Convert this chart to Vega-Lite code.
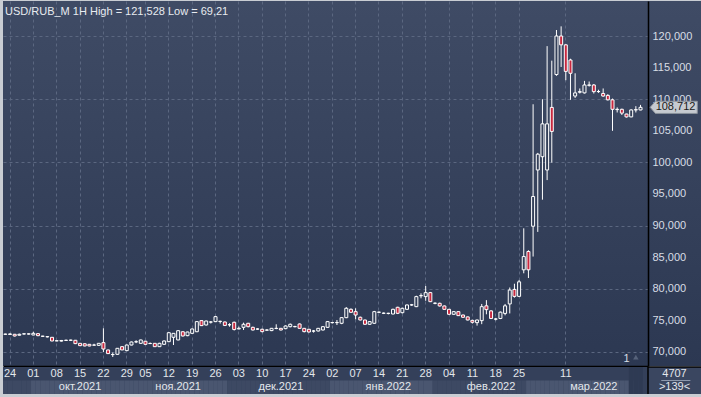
{
  "$schema": "https://vega.github.io/schema/vega-lite/v6.json",
  "background": "#c9cdd3",
  "padding": {"left": 3, "top": 1, "right": 0, "bottom": 4},
  "spacing": 0,
  "config": {
    "locale": {"number": {"decimal": ",", "thousands": " ", "grouping": [3], "currency": ["", ""]}},
    "view": {"stroke": null},
    "font": "Liberation Sans"
  },
  "datasets": {
    "bars": [
      {"d":"2021-09-23","o":72.8,"h":72.9,"l":72.7,"c":72.82},
      {"d":"2021-09-24","o":72.78,"h":72.95,"l":72.7,"c":72.85},
      {"d":"2021-09-27","o":72.8,"h":72.85,"l":72.45,"c":72.53},
      {"d":"2021-09-28","o":72.65,"h":72.9,"l":72.6,"c":72.8},
      {"d":"2021-09-29","o":72.85,"h":72.95,"l":72.75,"c":72.87},
      {"d":"2021-09-30","o":72.86,"h":72.95,"l":72.75,"c":72.84},
      {"d":"2021-10-01","o":72.69,"h":73.2,"l":72.65,"c":72.95},
      {"d":"2021-10-04","o":72.9,"h":72.95,"l":72.5,"c":72.58},
      {"d":"2021-10-05","o":72.5,"h":72.55,"l":72.4,"c":72.48},
      {"d":"2021-10-06","o":72.42,"h":72.5,"l":72.3,"c":72.4},
      {"d":"2021-10-07","o":72.32,"h":72.35,"l":71.7,"c":71.74},
      {"d":"2021-10-08","o":71.75,"h":71.85,"l":71.7,"c":71.78},
      {"d":"2021-10-11","o":71.72,"h":71.9,"l":71.65,"c":71.82},
      {"d":"2021-10-12","o":71.85,"h":71.95,"l":71.78,"c":71.83},
      {"d":"2021-10-13","o":71.87,"h":71.95,"l":71.78,"c":71.85},
      {"d":"2021-10-14","o":71.85,"h":71.9,"l":71.25,"c":71.32},
      {"d":"2021-10-15","o":71.37,"h":71.4,"l":70.95,"c":71.0},
      {"d":"2021-10-18","o":71.3,"h":71.35,"l":70.9,"c":70.95},
      {"d":"2021-10-19","o":71.21,"h":71.25,"l":70.9,"c":70.95},
      {"d":"2021-10-20","o":71.1,"h":71.3,"l":71.0,"c":71.08},
      {"d":"2021-10-21","o":71.05,"h":71.4,"l":71.0,"c":71.37},
      {"d":"2021-10-22","o":71.48,"h":73.75,"l":70.0,"c":70.47},
      {"d":"2021-10-25","o":70.32,"h":70.35,"l":69.7,"c":69.74},
      {"d":"2021-10-26","o":69.6,"h":69.9,"l":69.21,"c":69.58},
      {"d":"2021-10-27","o":69.63,"h":70.6,"l":69.55,"c":70.58},
      {"d":"2021-10-28","o":70.84,"h":70.9,"l":70.3,"c":70.32},
      {"d":"2021-10-29","o":70.21,"h":71.15,"l":70.15,"c":71.1},
      {"d":"2021-11-01","o":71.1,"h":71.65,"l":71.05,"c":71.58},
      {"d":"2021-11-02","o":71.6,"h":71.85,"l":71.4,"c":71.62},
      {"d":"2021-11-03","o":71.37,"h":71.95,"l":71.3,"c":71.9},
      {"d":"2021-11-05","o":71.7,"h":71.75,"l":71.15,"c":71.21},
      {"d":"2021-11-08","o":71.35,"h":71.5,"l":71.25,"c":71.33},
      {"d":"2021-11-09","o":71.37,"h":71.4,"l":70.8,"c":70.84},
      {"d":"2021-11-10","o":70.84,"h":71.45,"l":70.8,"c":71.37},
      {"d":"2021-11-11","o":71.21,"h":71.8,"l":71.15,"c":71.74},
      {"d":"2021-11-12","o":71.63,"h":73.1,"l":71.55,"c":73.05},
      {"d":"2021-11-15","o":72.32,"h":73.0,"l":71.1,"c":72.95},
      {"d":"2021-11-16","o":71.9,"h":73.45,"l":71.85,"c":73.37},
      {"d":"2021-11-17","o":73.2,"h":73.25,"l":72.45,"c":72.53},
      {"d":"2021-11-18","o":72.58,"h":73.2,"l":72.5,"c":73.16},
      {"d":"2021-11-19","o":72.95,"h":73.7,"l":72.9,"c":73.64},
      {"d":"2021-11-22","o":73.2,"h":74.85,"l":73.15,"c":74.8},
      {"d":"2021-11-23","o":74.96,"h":75.0,"l":74.1,"c":74.17},
      {"d":"2021-11-24","o":74.27,"h":74.95,"l":74.2,"c":74.9},
      {"d":"2021-11-25","o":74.75,"h":74.9,"l":74.5,"c":74.73},
      {"d":"2021-11-26","o":74.8,"h":75.7,"l":74.75,"c":75.59},
      {"d":"2021-11-29","o":74.85,"h":74.95,"l":74.5,"c":74.83},
      {"d":"2021-11-30","o":74.75,"h":74.8,"l":74.1,"c":74.2},
      {"d":"2021-12-01","o":74.3,"h":74.55,"l":74.0,"c":74.32},
      {"d":"2021-12-02","o":74.7,"h":74.8,"l":73.4,"c":73.55},
      {"d":"2021-12-03","o":73.64,"h":74.0,"l":73.6,"c":73.74},
      {"d":"2021-12-06","o":73.9,"h":74.64,"l":73.48,"c":74.38},
      {"d":"2021-12-07","o":74.54,"h":74.6,"l":73.9,"c":74.0},
      {"d":"2021-12-08","o":73.9,"h":74.0,"l":73.4,"c":73.48},
      {"d":"2021-12-09","o":73.62,"h":73.75,"l":73.5,"c":73.64},
      {"d":"2021-12-10","o":73.59,"h":73.7,"l":73.1,"c":73.22},
      {"d":"2021-12-13","o":73.45,"h":73.6,"l":73.35,"c":73.48},
      {"d":"2021-12-14","o":73.38,"h":73.8,"l":73.3,"c":73.74},
      {"d":"2021-12-15","o":73.72,"h":74.38,"l":73.6,"c":73.74},
      {"d":"2021-12-16","o":73.74,"h":73.8,"l":73.4,"c":73.48},
      {"d":"2021-12-17","o":73.69,"h":74.2,"l":73.6,"c":74.11},
      {"d":"2021-12-20","o":74.0,"h":74.5,"l":73.9,"c":74.38},
      {"d":"2021-12-21","o":74.0,"h":74.15,"l":73.9,"c":74.02},
      {"d":"2021-12-22","o":74.43,"h":74.5,"l":73.7,"c":73.74},
      {"d":"2021-12-23","o":73.74,"h":73.8,"l":73.1,"c":73.22},
      {"d":"2021-12-24","o":73.59,"h":73.65,"l":73.1,"c":73.16},
      {"d":"2021-12-27","o":73.3,"h":73.48,"l":73.06,"c":73.32},
      {"d":"2021-12-28","o":73.32,"h":73.8,"l":73.25,"c":73.74},
      {"d":"2021-12-29","o":73.48,"h":74.1,"l":73.4,"c":74.0},
      {"d":"2021-12-30","o":73.9,"h":74.9,"l":73.8,"c":74.8},
      {"d":"2022-01-02","o":74.64,"h":74.75,"l":74.5,"c":74.66},
      {"d":"2022-01-03","o":74.64,"h":75.06,"l":74.27,"c":74.66},
      {"d":"2022-01-04","o":74.54,"h":75.5,"l":74.4,"c":75.43},
      {"d":"2022-01-05","o":75.43,"h":77.1,"l":75.35,"c":76.91},
      {"d":"2022-01-06","o":76.75,"h":76.9,"l":76.2,"c":76.28},
      {"d":"2022-01-07","o":76.38,"h":76.91,"l":75.17,"c":75.85},
      {"d":"2022-01-10","o":75.49,"h":75.6,"l":75.0,"c":75.06},
      {"d":"2022-01-11","o":75.06,"h":75.1,"l":74.3,"c":74.38},
      {"d":"2022-01-12","o":74.38,"h":74.9,"l":74.3,"c":74.8},
      {"d":"2022-01-13","o":74.54,"h":76.5,"l":74.45,"c":76.38},
      {"d":"2022-01-14","o":76.28,"h":76.4,"l":76.15,"c":76.3},
      {"d":"2022-01-17","o":76.12,"h":76.25,"l":76.0,"c":76.14},
      {"d":"2022-01-18","o":76.12,"h":76.2,"l":75.95,"c":76.1},
      {"d":"2022-01-19","o":76.01,"h":76.85,"l":75.95,"c":76.75},
      {"d":"2022-01-20","o":77.07,"h":77.15,"l":76.0,"c":76.12},
      {"d":"2022-01-21","o":76.22,"h":77.0,"l":76.1,"c":76.91},
      {"d":"2022-01-24","o":76.75,"h":77.5,"l":76.7,"c":77.44},
      {"d":"2022-01-25","o":77.44,"h":77.6,"l":77.3,"c":77.46},
      {"d":"2022-01-26","o":77.17,"h":78.9,"l":77.1,"c":78.76},
      {"d":"2022-01-27","o":78.9,"h":79.28,"l":78.49,"c":78.92},
      {"d":"2022-01-28","o":78.76,"h":80.44,"l":78.1,"c":79.39},
      {"d":"2022-01-31","o":79.39,"h":79.5,"l":77.9,"c":77.96},
      {"d":"2022-02-01","o":77.7,"h":77.85,"l":77.55,"c":77.72},
      {"d":"2022-02-02","o":77.7,"h":77.8,"l":77.2,"c":77.28},
      {"d":"2022-02-03","o":77.28,"h":77.35,"l":76.7,"c":76.75},
      {"d":"2022-02-04","o":76.75,"h":76.8,"l":75.9,"c":75.96},
      {"d":"2022-02-07","o":75.96,"h":76.45,"l":75.9,"c":76.38},
      {"d":"2022-02-08","o":76.38,"h":76.45,"l":75.7,"c":75.75},
      {"d":"2022-02-09","o":75.85,"h":75.9,"l":75.4,"c":75.49},
      {"d":"2022-02-10","o":75.55,"h":75.6,"l":75.0,"c":75.06},
      {"d":"2022-02-11","o":75.0,"h":75.1,"l":74.5,"c":74.7},
      {"d":"2022-02-14","o":74.64,"h":75.1,"l":74.17,"c":75.06},
      {"d":"2022-02-15","o":74.96,"h":77.6,"l":74.4,"c":77.17},
      {"d":"2022-02-16","o":77.3,"h":78.2,"l":75.96,"c":76.7},
      {"d":"2022-02-17","o":76.5,"h":76.6,"l":75.2,"c":75.3},
      {"d":"2022-02-18","o":75.2,"h":75.4,"l":75.0,"c":75.22},
      {"d":"2022-02-21","o":75.3,"h":76.4,"l":75.2,"c":76.3},
      {"d":"2022-02-22","o":76.1,"h":77.6,"l":75.8,"c":77.3},
      {"d":"2022-02-23","o":77.6,"h":80.2,"l":76.1,"c":79.8},
      {"d":"2022-02-24","o":79.9,"h":80.8,"l":78.6,"c":78.8},
      {"d":"2022-02-25","o":78.8,"h":81.4,"l":78.7,"c":81.1},
      {"d":"2022-02-28","o":83.0,"h":89.57,"l":82.45,"c":85.1},
      {"d":"2022-03-01","o":85.9,"h":86.1,"l":81.7,"c":83.0},
      {"d":"2022-03-02","o":89.9,"h":109.2,"l":85.1,"c":94.6},
      {"d":"2022-03-03","o":98.8,"h":101.5,"l":89.0,"c":101.3},
      {"d":"2022-03-04","o":100.9,"h":110.0,"l":94.1,"c":106.1},
      {"d":"2022-03-07","o":98.8,"h":118.4,"l":97.2,"c":106.1},
      {"d":"2022-03-08","o":108.7,"h":116.1,"l":99.96,"c":104.9},
      {"d":"2022-03-09","o":113.9,"h":120.95,"l":113.7,"c":120.0},
      {"d":"2022-03-10","o":120.0,"h":121.528,"l":115.1,"c":118.6},
      {"d":"2022-03-11","o":118.6,"h":118.7,"l":113.0,"c":114.4},
      {"d":"2022-03-14","o":116.2,"h":116.4,"l":109.9,"c":114.1},
      {"d":"2022-03-15","o":110.5,"h":114.1,"l":110.2,"c":111.0},
      {"d":"2022-03-16","o":111.1,"h":111.7,"l":110.9,"c":111.2},
      {"d":"2022-03-17","o":111.0,"h":112.9,"l":110.9,"c":112.25},
      {"d":"2022-03-18","o":112.2,"h":112.8,"l":112.0,"c":112.25},
      {"d":"2022-03-21","o":112.25,"h":112.4,"l":110.9,"c":111.2},
      {"d":"2022-03-22","o":111.2,"h":111.5,"l":111.0,"c":111.22},
      {"d":"2022-03-23","o":110.9,"h":111.7,"l":110.4,"c":110.5},
      {"d":"2022-03-24","o":110.6,"h":110.8,"l":109.8,"c":109.9},
      {"d":"2022-03-25","o":109.9,"h":110.1,"l":105.0,"c":108.4},
      {"d":"2022-03-28","o":108.4,"h":108.7,"l":107.9,"c":108.35},
      {"d":"2022-03-29","o":108.4,"h":108.5,"l":107.5,"c":107.8},
      {"d":"2022-03-30","o":107.65,"h":107.7,"l":107.1,"c":107.2},
      {"d":"2022-03-31","o":107.2,"h":108.4,"l":107.15,"c":108.3},
      {"d":"2022-04-01","o":108.3,"h":108.9,"l":107.9,"c":108.35},
      {"d":"2022-04-04","o":108.3,"h":109.1,"l":108.25,"c":108.712}
    ],
    "ticks": [
      {"d":"2021-09-24","lab":"24"},{"d":"2021-10-01","lab":"01"},{"d":"2021-10-08","lab":"08"},
      {"d":"2021-10-15","lab":"15"},{"d":"2021-10-22","lab":"22"},{"d":"2021-10-29","lab":"29"},
      {"d":"2021-11-05","lab":"05"},{"d":"2021-11-12","lab":"12"},{"d":"2021-11-19","lab":"19"},
      {"d":"2021-11-26","lab":"26"},{"d":"2021-12-03","lab":"03"},{"d":"2021-12-10","lab":"10"},
      {"d":"2021-12-17","lab":"17"},{"d":"2021-12-24","lab":"24"},{"d":"2022-01-02","lab":"02"},
      {"d":"2022-01-07","lab":"07"},{"d":"2022-01-14","lab":"14"},{"d":"2022-01-21","lab":"21"},
      {"d":"2022-01-28","lab":"28"},{"d":"2022-02-04","lab":"04"},{"d":"2022-02-11","lab":"11"},
      {"d":"2022-02-18","lab":"18"},{"d":"2022-02-25","lab":"25"},{"d":"2022-03-11","lab":"11"}
    ],
    "months": [
      {"d":"2021-10-15","lab":"окт.2021"},{"d":"2021-11-16","lab":"ноя.2021"},
      {"d":"2021-12-16","lab":"дек.2021"},{"d":"2022-01-18","lab":"янв.2022"},
      {"d":"2022-02-17","lab":"фев.2022"},{"d":"2022-03-21","lab":"мар.2022"}
    ],
    "last": [{"c":108.712}]
  },
  "vconcat": [
    {
      "spacing": 0,
      "bounds": "flush",
      "hconcat": [
        {
          "width": 645,
          "height": 365,
          "data": {"name": "bars"},
          "view": {"stroke": null, "fill": {"gradient": "linear", "x1": 0, "y1": 0, "x2": 0, "y2": 1, "stops": [{"offset": 0, "color": "#3f4b65"}, {"offset": 1, "color": "#2c3852"}]}},
          "title": {"text": "USD/RUB_M 1H High = 121,528 Low = 69,21", "anchor": "start", "offset": -16, "dx": 2, "fontSize": 11, "fontWeight": "normal", "font": "Liberation Sans", "color": "#e8ebf0"},
          "encoding": {
            "x": {
              "field": "d", "type": "ordinal",
              "scale": {"paddingInner": 0, "paddingOuter": 0.55, "align": 0},
              "axis": {
                "values": ["2021-09-24","2021-10-01","2021-10-08","2021-10-15","2021-10-22","2021-10-29","2021-11-05","2021-11-12","2021-11-19","2021-11-26","2021-12-03","2021-12-10","2021-12-17","2021-12-24","2022-01-02","2022-01-07","2022-01-14","2022-01-21","2022-01-28","2022-02-04","2022-02-11","2022-02-18","2022-02-25","2022-03-11"],
                "labels": false, "ticks": false, "domain": true, "domainColor": "#000000", "domainWidth": 1.5,
                "grid": true, "gridColor": "#5b6780", "gridDash": [3, 3], "gridWidth": 1,
                "bandPosition": 0.5, "title": null, "minExtent": 0, "maxExtent": 0
              }
            }
          },
          "layer": [
            {
              "mark": {"type": "rule", "color": "#ffffff", "strokeWidth": 1},
              "encoding": {
                "y": {
                  "field": "l", "type": "quantitative",
                  "scale": {"domain": [67.78, 125.54], "nice": false, "zero": false},
                  "axis": {"orient": "right", "values": [70,75,80,85,90,95,100,105,110,115,120], "labels": false, "ticks": false, "domain": false, "grid": true, "gridColor": "#5b6780", "gridDash": [3, 3], "gridWidth": 1, "title": null, "minExtent": 0, "maxExtent": 0}
                },
                "y2": {"field": "h"}
              }
            },
            {
              "mark": {"type": "bar", "size": 3, "stroke": "#ffffff", "strokeWidth": 1},
              "encoding": {
                "y": {"field": "o", "type": "quantitative"},
                "y2": {"field": "c"},
                "fill": {"condition": {"test": "datum.c < datum.o", "value": "#c8283f"}, "value": "#344059"}
              }
            },
            {
              "data": {"values": [{"t": "1"}]},
              "mark": {"type": "text", "color": "#d8dde5", "fontSize": 11, "font": "Liberation Sans", "baseline": "middle", "align": "center"},
              "encoding": {
                "x": {"datum": "2022-03-30"},
                "y": {"datum": 68.85},
                "text": {"field": "t"}
              }
            },
            {
              "data": {"values": [{"t": "1"}]},
              "mark": {"type": "point", "shape": "triangle-up", "size": 30, "filled": true, "color": "#56627a", "opacity": 1},
              "encoding": {
                "x": {"datum": "2022-04-01"},
                "y": {"datum": 69.2}
              }
            }
          ]
        },
        {
          "width": 53,
          "height": 365,
          "data": {"name": "last"},
          "view": {"stroke": null, "fill": {"gradient": "linear", "x1": 0, "y1": 0, "x2": 0, "y2": 1, "stops": [{"offset": 0, "color": "#3f4b65"}, {"offset": 1, "color": "#2c3852"}]}},
          "encoding": {
            "y": {
              "field": "c", "type": "quantitative",
              "scale": {"domain": [67.78, 125.54], "nice": false, "zero": false},
              "axis": {"orient": "left", "values": [70,75,80,85,90,95,100,105,110,115,120], "format": ",.3f",
                "domain": true, "domainColor": "#000000", "domainWidth": 1.5, "ticks": false, "tickSize": 0,
                "labelAlign": "left", "labelPadding": -4, "labelColor": "#d8dde5", "labelFontSize": 11, "labelFont": "Liberation Sans",
                "grid": false, "title": null, "minExtent": 0, "maxExtent": 0}
            }
          },
          "layer": [
            {"mark": {"type": "point", "shape": "M -0.92 0 L -0.72 -0.23 L 0.86 -0.23 L 0.86 0.23 L -0.72 0.23 Z", "size": 2809, "filled": true, "fill": "#c6cad0", "stroke": "#8a919b", "strokeWidth": 1, "opacity": 1}},
            {"mark": {"type": "text", "align": "center", "baseline": "middle", "fontSize": 11, "font": "Liberation Sans", "color": "#1a1a1a", "dx": 1}, "encoding": {"text": {"field": "c", "type": "quantitative", "format": ",.3f"}}}
          ]
        }
      ]
    },
    {
      "spacing": 0,
      "bounds": "flush",
      "hconcat": [
        {
          "width": 645,
          "height": 27,
          "view": {"stroke": null, "fill": "#34405a"},
          "layer": [
            {
              "data": {"name": "bars"},
              "mark": {"type": "rect"},
              "encoding": {
                "x": {"field": "d", "type": "ordinal", "scale": {"paddingInner": 0, "paddingOuter": 0.55, "align": 0}, "axis": null},
                "y": {"datum": 0, "type": "quantitative", "scale": {"domain": [0, 2], "nice": false, "zero": false}, "axis": null},
                "y2": {"datum": 1},
                "color": {
                  "condition": [
                    {"test": "(datum.d >= '2021-10' && datum.d < '2021-12') || (datum.d >= '2022-01' && datum.d < '2022-02') || (datum.d >= '2022-03' && datum.d < '2022-04')", "value": "#4a5670"}
                  ],
                  "value": "#3d4963"
                }
              }
            },
            {
              "data": {"name": "bars"},
              "transform": [{"filter": "datum.d >= '2022-03-31'"}],
              "mark": {"type": "rect", "color": "#2e3a53"},
              "encoding": {
                "x": {"field": "d", "type": "ordinal"},
                "y": {"datum": 0, "type": "quantitative"},
                "y2": {"datum": 2}
              }
            },
            {
              "data": {"name": "ticks"},
              "mark": {"type": "text", "color": "#e3e7ec", "fontSize": 11, "font": "Liberation Sans", "baseline": "middle"},
              "encoding": {
                "x": {"field": "d", "type": "ordinal"},
                "y": {"datum": 1.5, "type": "quantitative"},
                "text": {"field": "lab"}
              }
            },
            {
              "data": {"name": "months"},
              "mark": {"type": "text", "color": "#e3e7ec", "fontSize": 11, "font": "Liberation Sans", "baseline": "middle"},
              "encoding": {
                "x": {"field": "d", "type": "ordinal"},
                "y": {"datum": 0.5, "type": "quantitative"},
                "text": {"field": "lab"}
              }
            }
          ]
        },
        {
          "width": 53,
          "height": 27,
          "data": {"values": [{}]},
          "view": {"stroke": null, "fill": "#3a4660"},
          "layer": [
            {
              "mark": {"type": "text", "color": "#e3e7ec", "fontSize": 11, "font": "Liberation Sans", "baseline": "middle"},
              "encoding": {
                "y": {"datum": 1.5, "type": "quantitative", "scale": {"domain": [0, 2], "nice": false, "zero": false}, "axis": null},
                "text": {"value": "4707"}
              }
            },
            {
              "mark": {"type": "text", "color": "#e3e7ec", "fontSize": 11, "font": "Liberation Sans", "baseline": "middle"},
              "encoding": {
                "y": {"datum": 0.5, "type": "quantitative"},
                "text": {"value": ">139<"}
              }
            },
            {
              "mark": {"type": "rule", "color": "#8d99ad", "strokeWidth": 1},
              "encoding": {
                "y": {"datum": 1, "type": "quantitative"},
                "x": {"datum": 0.25, "type": "quantitative", "scale": {"domain": [0, 1], "nice": false, "zero": false}, "axis": null},
                "x2": {"datum": 0.8}
              }
            },
            {
              "mark": {"type": "rule", "color": "#000000", "strokeWidth": 1.5},
              "encoding": {"y": {"datum": 2, "type": "quantitative"}}
            },
            {
              "mark": {"type": "rule", "color": "#000000", "strokeWidth": 1.5},
              "encoding": {"x": {"datum": 0, "type": "quantitative"}}
            }
          ]
        }
      ]
    }
  ]
}
